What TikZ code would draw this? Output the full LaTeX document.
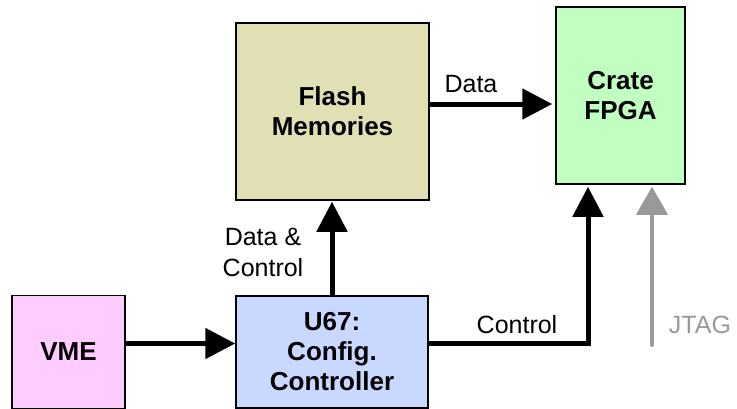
\documentclass[tikz,border=0pt]{standalone}
\usepackage{fontspec}
\setmainfont{Liberation Sans}
\usetikzlibrary{arrows.meta,calc}
\definecolor{flashfill}{RGB}{224,224,180}
\definecolor{fpgafill}{RGB}{192,255,192}
\definecolor{vmefill}{RGB}{255,204,255}
\definecolor{ctrlfill}{RGB}{200,216,255}
\definecolor{jtaggray}{RGB}{153,153,153}
\tikzset{
  x=1pt, y=1pt,
  block/.style={draw=black, line width=1.5pt, inner sep=0pt, align=center,
    font=\bfseries\fontsize{26}{30}\selectfont},
  flow/.style={line width=5pt, -{Triangle[length=30pt,width=30pt]}},
  jtagflow/.style={draw=jtaggray, line width=4pt, line cap=round,
    -{Triangle[length=28pt,width=31pt]}},
  lbl/.style={inner sep=0pt, align=center, font=\fontsize{25}{31}\selectfont}
}
\begin{document}
\begin{tikzpicture}
\clip (0,0) rectangle (737,-408);
\fill[white] (0,0) rectangle (737,-408);

% blocks
\node[block, fill=flashfill, minimum width=193pt, minimum height=177pt]
  (flash) at (332.5,-111.5) {Flash\\Memories};
\node[block, fill=fpgafill, minimum width=129pt, minimum height=177pt]
  (fpga) at (620.5,-95.5) {Crate\\FPGA};
\node[block, fill=vmefill, minimum width=113pt, minimum height=113pt]
  (vme) at (68.5,-352) {VME};
\node[block, fill=ctrlfill, minimum width=192pt, minimum height=112pt]
  (u67) at (332,-352) {U67:\\Config.\\Controller};

% connectors
\coordinate (vmeout) at ([yshift=8.5pt]vme.east);
\draw[flow] (vmeout) -- (vmeout -| u67.west);
\draw[flow, shorten >=1pt] (u67.north) -- (u67.north |- flash.south);
\coordinate (dataout) at ([yshift=7.5pt]flash.east);
\draw[flow, shorten >=3pt] (dataout) -- (dataout -| fpga.west);
\coordinate (ctrlout) at ([yshift=8.5pt]u67.east);
\draw[flow, shorten >=2pt] (ctrlout) -| ([xshift=-32.5pt]fpga.south);
\coordinate (jtagin) at (652,-345);
\draw[jtagflow, shorten >=2pt] (jtagin) -- (jtagin |- fpga.south);

% labels (base anchor sits on the last line)
\node[lbl, anchor=base] (datalbl) at (471,-92) {Data};
\node[lbl, anchor=base] (dclbl) at (263,-276) {Data \&\\Control};
\node[lbl, anchor=base] (ctrllbl) at (517,-333) {Control};
\node[lbl, anchor=base, text=jtaggray] (jtaglbl) at (700,-333) {JTAG};
\end{tikzpicture}
\end{document}
